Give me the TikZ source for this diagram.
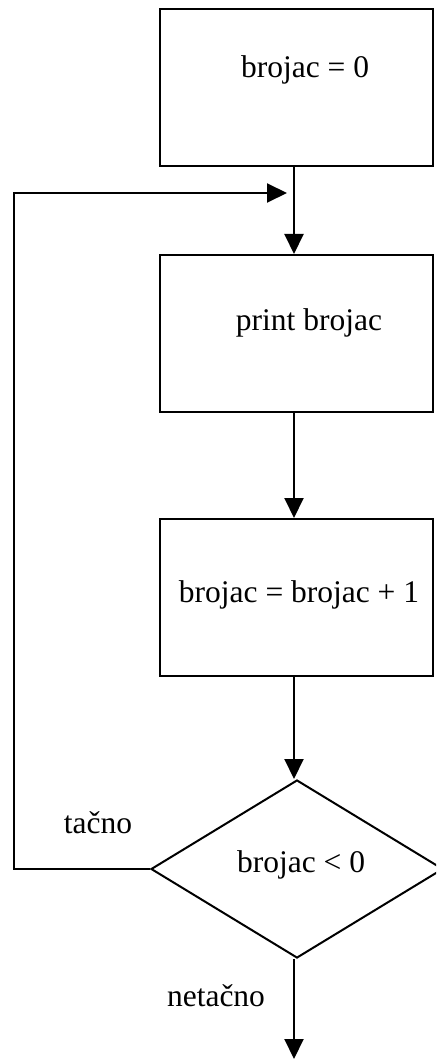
\documentclass[tikz,border=0pt]{standalone}
\usepackage{fontspec}
\setmainfont{Liberation Serif}
\usetikzlibrary{arrows.meta,shapes.geometric}
\begin{document}
\begin{tikzpicture}[x=1pt,y=-1pt,
  line width=2pt,
  box/.style={draw,rectangle,minimum width=273pt,minimum height=157pt,inner sep=0pt},
  dec/.style={draw,diamond,minimum width=292pt,minimum height=178pt,inner sep=0pt},
  txt/.style={anchor=base,inner sep=0pt,font=\fontsize{31.5}{36}\selectfont},
  arr/.style={-{Triangle[length=20pt,width=19pt]}}]
\useasboundingbox (0,0) rectangle (436,1059);
\clip (0,0) rectangle (436,1059);
\node[box] (b1) at (296.5,88) {};
\node[box] (b2) at (296.5,333.5) {};
\node[box] (b3) at (296.5,597.5) {};
\node[dec] (d) at (297,869) {};
\node[txt] (t1) at (305,78) {brojac = 0};
\node[txt] (t2) at (309,330) {print brojac};
\node[txt] (t3) at (299,602) {brojac = brojac + 1};
\node[txt] (t4) at (301,872) {brojac < 0};
\node[txt] (l1) at (98,833) {tačno};
\node[txt] (l2) at (216,1006) {netačno};
\coordinate (sp) at (294,0);
\coordinate (lp) at (13.5,869);
\coordinate (in) at (287,193);
\coordinate (out) at (294,1059);
\draw[arr] (b1.south -| sp) -- (b2.north -| sp);
\draw[arr] (b2.south -| sp) -- (b3.north -| sp);
\draw[arr] (b3.south -| sp) -- (d.north -| sp);
\draw[arr] (d.west) -- (lp) |- (in);
\draw[arr] (d.south -| sp) -- (out);
\end{tikzpicture}
\end{document}
